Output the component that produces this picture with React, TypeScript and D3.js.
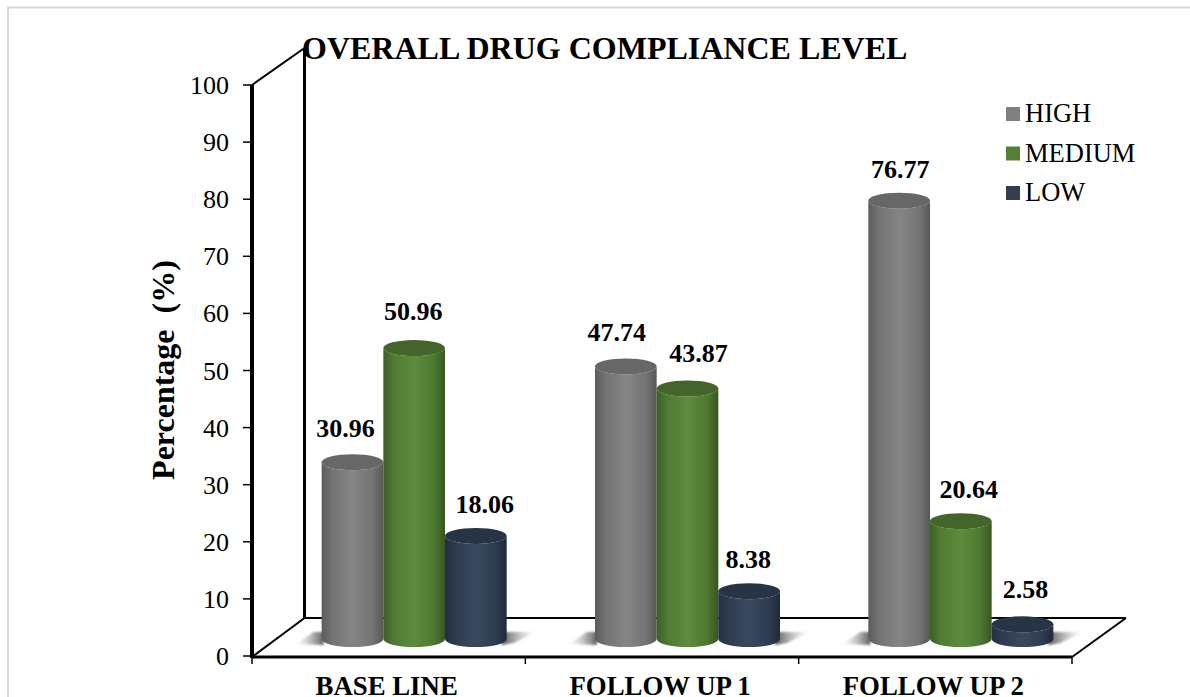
import React from "react";
import * as d3 from "d3";

const categories = ["BASE LINE", "FOLLOW UP 1", "FOLLOW UP 2"];
const seriesNames = ["HIGH", "MEDIUM", "LOW"];
const high = [30.96, 47.74, 76.77];
const medium = [50.96, 43.87, 20.64];
const low = [18.06, 8.38, 2.58];
const yTicks = [0, 10, 20, 30, 40, 50, 60, 70, 80, 90, 100];
const chartTitle = "OVERALL DRUG COMPLIANCE LEVEL";
const yTitle = "Percentage  (%)";

const seriesValues = [high, medium, low];
const palette = [
  { side: ["#5c5c5c", "#747474", "#858585", "#747474", "#585858"], top: "#676767", swatch: "#808080" },
  { side: ["#3c6025", "#507b34", "#5c8c3c", "#4e7832", "#37561f"], top: "#436529", swatch: "#558137" },
  { side: ["#222f40", "#2f3d51", "#38495f", "#2e3c50", "#1f2a3a"], top: "#273445", swatch: "#333f50" },
];
const gradientStops = [0, 0.18, 0.5, 0.82, 1];

// Nudges that keep the value labels clear of neighbouring cylinders,
// one row per series and one column per category.
const labelNudgeX = [
  [-7, -9, 1],
  [-1, 11, 8],
  [9, -1, 3],
];
const labelNudgeY = [
  [-1, -1, 1],
  [-4, -3, 1],
  [1, 1, -2],
];

const W = 1190;
const H = 697;
const FONT = "'Liberation Serif', 'Times New Roman', serif";

export default function App() {
  const y = d3.scaleLinear().domain([0, 100]).range([656, 85]);
  const front = { left: 252, right: 1072, bottom: 657 };
  const back = { left: 304.5, right: 1126, bottom: 618, top: 48 };
  const xGroup = d3.scaleBand().domain(categories).range([front.left, front.right]);
  const groupBar = d3.scaleBand().domain(seriesNames).range([-92, 93]);
  const depth = 17;
  const shift = 25;
  const ry = 8;
  const bw = groupBar.bandwidth();
  const catTicks = [front.left, ...categories.map((c) => (xGroup(c) as number) + xGroup.bandwidth())];
  const yFloor = y(0) - depth;

  return (
    <svg width={W} height={H} style={{ position: "absolute", left: 0, top: 0, background: "#fff" }} fontFamily={FONT}>
      <defs>
        {palette.map((p, i) => (
          <linearGradient key={i} id={`side${i}`} x1="0" x2="1" y1="0" y2="0">
            {p.side.map((col, k) => (
              <stop key={k} offset={gradientStops[k]} stopColor={col} />
            ))}
          </linearGradient>
        ))}
        <linearGradient id="floorShade" x1="0" x2="1" y1="0" y2="0">
          <stop offset="0" stopColor="#555" stopOpacity="1" />
          <stop offset="1" stopColor="#aaa" stopOpacity="0" />
        </linearGradient>
        <linearGradient id="floorShadeL" x1="1" x2="0" y1="0" y2="0">
          <stop offset="0" stopColor="#555" stopOpacity="0.95" />
          <stop offset="1" stopColor="#aaa" stopOpacity="0" />
        </linearGradient>
        <filter id="soft" x="-20%" y="-50%" width="140%" height="200%">
          <feGaussianBlur stdDeviation="1.2" />
        </filter>
      </defs>

      {/* page frame */}
      <path d={`M8 ${H} V7.5 H${W}`} fill="none" stroke="#d9d9d9" strokeWidth={2} />

      {/* box walls */}
      <g stroke="#000" fill="none">
        <line x1={back.left} x2={back.left} y1={back.top} y2={back.bottom} strokeWidth={3} />
        <line x1={back.left} x2={back.right} y1={back.bottom} y2={back.bottom} strokeWidth={2} />
        <line x1={front.left} x2={back.left} y1={y(100)} y2={back.top} strokeWidth={2} />
        <line x1={front.left} x2={back.left} y1={front.bottom} y2={back.bottom} strokeWidth={2} />
        <line x1={front.right} x2={back.right} y1={front.bottom} y2={back.bottom} strokeWidth={2} />
      </g>

      {/* shadows cast on the floor either side of each cluster */}
      {categories.map((c) => {
        const cx = (xGroup(c) as number) + xGroup.bandwidth() / 2 + shift;
        const right = [[cx + 88, yFloor - 7], [cx + 122, yFloor - 7], [cx + 100, yFloor + 4], [cx + 88, yFloor + 6]];
        const left = [[cx - 90, yFloor - 7], [cx - 100, yFloor - 7], [cx - 118, yFloor + 5], [cx - 90, yFloor + 6]];
        const outline = d3.line();
        return (
          <g key={c} filter="url(#soft)">
            <path d={outline(left as [number, number][]) + "Z"} fill="url(#floorShadeL)" />
            <path d={outline(right as [number, number][]) + "Z"} fill="url(#floorShade)" />
          </g>
        );
      })}

      {/* cylinders */}
      {categories.map((c, gi) => {
        const cx = (xGroup(c) as number) + xGroup.bandwidth() / 2 + shift;
        return (
          <g key={c}>
            {seriesNames.map((s, si) => {
              const v = seriesValues[si][gi];
              const x0 = cx + (groupBar(s) as number);
              const x1 = x0 + bw;
              const yTop = y(v) - depth;
              const body = `M${x0} ${yTop} V${yFloor} A${bw / 2} ${ry} 0 0 0 ${x1} ${yFloor} V${yTop} A${bw / 2} ${ry} 0 0 1 ${x0} ${yTop} Z`;
              return (
                <g key={s}>
                  <path d={body} fill={`url(#side${si})`} />
                  <ellipse cx={(x0 + x1) / 2} cy={yTop} rx={bw / 2} ry={ry} fill={palette[si].top} />
                  <text
                    x={(x0 + x1) / 2 + labelNudgeX[si][gi]}
                    y={yTop - 24 + labelNudgeY[si][gi]}
                    textAnchor="middle"
                    fontWeight="bold"
                    fontSize={26}
                  >
                    {v.toFixed(2)}
                  </text>
                </g>
              );
            })}
          </g>
        );
      })}

      {/* front axes */}
      <g stroke="#000" fill="none">
        <line x1={front.left} x2={front.left} y1={y(100)} y2={front.bottom + 1} strokeWidth={4} />
        <line x1={front.left} x2={front.right} y1={front.bottom} y2={front.bottom} strokeWidth={3} />
        {yTicks.map((t) => (
          <line key={t} x1={front.left - 9} x2={front.left} y1={y(t)} y2={y(t)} strokeWidth={1.5} />
        ))}
        {catTicks.map((t) => (
          <line key={t} x1={t} x2={t} y1={front.bottom} y2={front.bottom + 7} strokeWidth={1.5} />
        ))}
      </g>

      {yTicks.map((t) => (
        <text key={t} x={229} y={y(t) + 9} textAnchor="end" fontSize={26}>
          {t}
        </text>
      ))}
      {categories.map((c) => (
        <text
          key={c}
          x={(xGroup(c) as number) + xGroup.bandwidth() / 2 - 2}
          y={695}
          textAnchor="middle"
          fontWeight="bold"
          fontSize={26.8}
        >
          {c}
        </text>
      ))}

      <text x={302} y={59} fontWeight="bold" fontSize={32}>
        {chartTitle}
      </text>
      <text transform="translate(174,370) rotate(-90)" textAnchor="middle" fontWeight="bold" fontSize={32} xmlSpace="preserve">
        {yTitle}
      </text>

      {/* legend */}
      {seriesNames.map((s, i) => (
        <g key={s}>
          <rect x={1006} y={107 + i * 39.5} width={14} height={14} fill={palette[i].swatch} />
          <text x={1025} y={122 + i * 39.5} fontSize={26.5}>
            {s}
          </text>
        </g>
      ))}
    </svg>
  );
}
